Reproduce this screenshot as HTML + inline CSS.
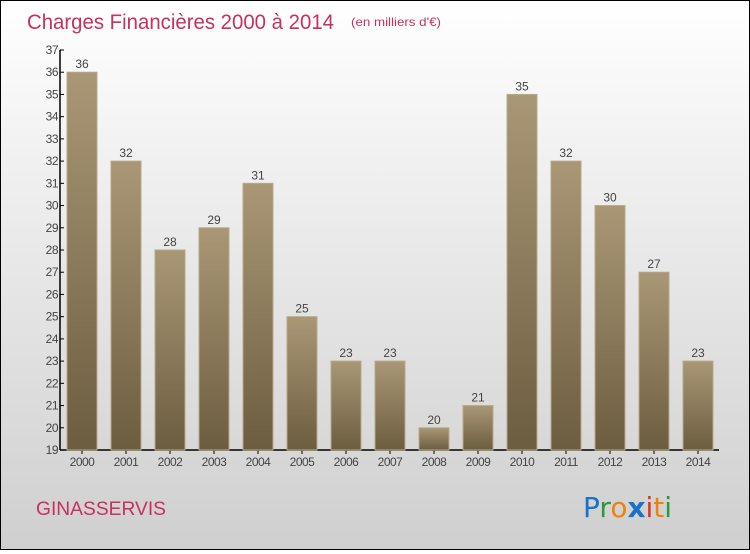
<!DOCTYPE html>
<html><head><meta charset="utf-8"><style>
body{margin:0;width:750px;height:550px;overflow:hidden;font-family:"Liberation Sans",sans-serif}
#wrap{position:absolute;left:0;top:0;width:748px;height:548px;border:1px solid #000;background:linear-gradient(#ffffff,#f0f0f0 30%,#cfcfcf)}
</style></head><body>
<div id="wrap">
<svg width="748" height="548">
<defs>
<linearGradient id="bg" x1="0" y1="0" x2="0" y2="1"><stop offset="0" stop-color="#a99776"/><stop offset="1" stop-color="#6d5d40"/></linearGradient>
</defs>
<text x="26" y="28" font-size="21" fill="#c8305f" textLength="307" lengthAdjust="spacingAndGlyphs">Charges Financières 2000 à 2014</text>
<text x="350" y="25" font-size="12" fill="#c8305f" textLength="90" lengthAdjust="spacingAndGlyphs">(en milliers d'€)</text>
<g id="yax"></g>
<g id="bars"></g>
<text x="35" y="514" font-size="19" fill="#c8305f" textLength="130" lengthAdjust="spacingAndGlyphs">GINASSERVIS</text>
<text x="582" y="516" font-size="28" font-family="'DejaVu Sans',sans-serif"><tspan fill="#1a72c8">P</tspan><tspan fill="#2a9a3a">r</tspan><tspan fill="#f08010">o</tspan><tspan fill="#1a72c8" font-weight="bold">x</tspan><tspan fill="#e03020">i</tspan><tspan fill="#f08010">t</tspan><tspan fill="#2a9a3a">i</tspan></text>
</svg></div>
<script>
const categories=["2000","2001","2002","2003","2004","2005","2006","2007","2008","2009","2010","2011","2012","2013","2014"];
const values=[36,32,28,29,31,25,23,23,20,21,35,32,30,27,23];
const yTicks=[19,20,21,22,23,24,25,26,27,28,29,30,31,32,33,34,35,36,37];
const NS="http://www.w3.org/2000/svg";
const yMin=19,yMax=37,y0=449,y1=49,axX=59;
const y=v=>y0-(v-yMin)/(yMax-yMin)*(y0-y1);
const x=i=>81+44*i;
function mk(t,a,p){const e=document.createElementNS(NS,t);for(const k in a)e.setAttribute(k,a[k]);p.appendChild(e);return e;}
const ya=document.getElementById('yax'),bg=document.getElementById('bars');
mk('line',{x1:axX,y1:y1,x2:axX,y2:y0,stroke:'#000','stroke-width':1.5},ya);
mk('line',{x1:axX,y1:y0,x2:718,y2:y0,stroke:'#000','stroke-width':1.5},ya);
yTicks.forEach(t=>{
 const l=mk('line',{x1:axX,y1:y(t),x2:axX+4,y2:y(t),stroke:'#000'},ya);
 
 
 const tx=mk('text',{x:axX-2,y:y(t)+4,'font-size':12,'text-anchor':'end',fill:'#444','letter-spacing':'-0.5'},ya);
 tx.textContent=t;
 
 
});
categories.forEach((c,i)=>{
 const v=values[i],cx=x(i);
 const r=mk('rect',{x:cx-15,y:y(v),width:30,height:y0-y(v),fill:'url(#bg)',stroke:'#b8a888','stroke-width':1},bg);
 
 
 const vl=mk('text',{x:cx,y:y(v)-4,'font-size':12,'text-anchor':'middle',fill:'#444'},bg);
 vl.textContent=v;
 
 
 mk('line',{x1:cx,y1:y0,x2:cx,y2:y0+4,stroke:'#000'},ya);
 const xl=mk('text',{x:cx,y:y0+16,'font-size':12,'text-anchor':'middle',fill:'#444','letter-spacing':'-0.5'},ya);
 xl.textContent=c;
 
 
});
</script>
</body></html>
